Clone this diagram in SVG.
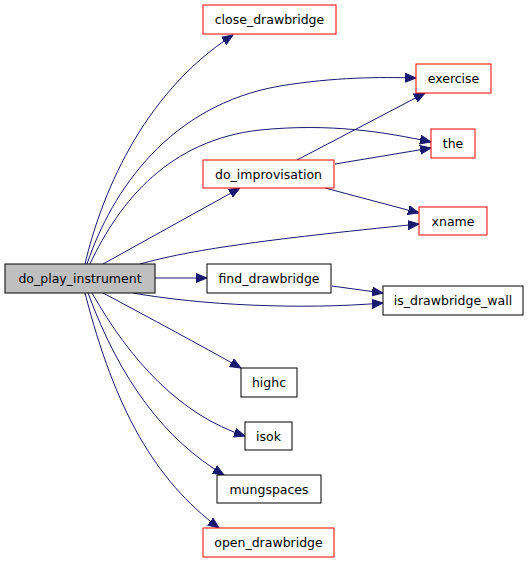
<svg xmlns="http://www.w3.org/2000/svg" width="528" height="563" viewBox="0 0 528 563">
<defs>
<style>
.n rect{fill:#fff;stroke:#000;stroke-width:1}
.n.r rect{stroke:#ff0000}
.n.cur rect{fill:#bfbfbf}
.n text{font-family:"DejaVu Sans",sans-serif;font-size:12.5px;text-anchor:middle;fill:#000}
.e path{fill:none;stroke:#191970;stroke-width:1;marker-end:url(#ah)}
</style>
<marker id="ah" markerUnits="userSpaceOnUse" markerWidth="12" markerHeight="10" refX="11" refY="4.5" orient="auto" viewBox="0 0 12 9">
<path d="M0,0 L11,4.5 L0,9 Z" fill="#191970" stroke="#191970"/>
</marker>
</defs>
<rect width="528" height="563" fill="#fff"/>
<g id="edges" class="e">
<path d="M85,264 C100,200 140,95 233,35"/>
<path d="M87,264 C112,190 170,105 280,86 C335,77 380,77 416,78"/>
<path d="M90,264 C120,200 170,140 260,130 C330,123 385,132 431,142"/>
<path d="M103,264 L240,188"/>
<path d="M140,264 C190,250 260,240 419,224"/>
<path d="M155,278 L207,278"/>
<path d="M133,293 C200,305 300,310 383,303"/>
<path d="M103,293 C150,318 200,345 241,368"/>
<path d="M92,293 C130,360 180,415 245,436"/>
<path d="M88,293 C120,380 165,440 224,475"/>
<path d="M85,293 C115,410 155,480 219,528"/>
<path d="M297,160 L425,93"/>
<path d="M335,164 L431,148"/>
<path d="M325,188 L419,213"/>
<path d="M332,286 L383,293"/>
</g>
<g id="do_play_instrument" class="n cur"><rect x="5" y="264" width="150" height="29"/><text x="80" y="283">do_play_instrument</text></g>
<g id="close_drawbridge" class="n r"><rect x="203" y="5" width="133" height="29"/><text x="269.5" y="24">close_drawbridge</text></g>
<g id="exercise" class="n r"><rect x="416" y="64" width="75" height="29"/><text x="453.5" y="83">exercise</text></g>
<g id="the" class="n r"><rect x="431" y="129" width="44" height="29"/><text x="453" y="148">the</text></g>
<g id="do_improvisation" class="n r"><rect x="203" y="160" width="131" height="28"/><text x="268.5" y="179">do_improvisation</text></g>
<g id="xname" class="n r"><rect x="419" y="207" width="68" height="28"/><text x="453" y="226">xname</text></g>
<g id="find_drawbridge" class="n"><rect x="207" y="264" width="124" height="29"/><text x="269" y="283">find_drawbridge</text></g>
<g id="is_drawbridge_wall" class="n"><rect x="383" y="286" width="140" height="29"/><text x="453" y="305">is_drawbridge_wall</text></g>
<g id="highc" class="n"><rect x="241" y="368" width="56" height="29"/><text x="269" y="387">highc</text></g>
<g id="isok" class="n"><rect x="245" y="422" width="47" height="28"/><text x="268.5" y="441">isok</text></g>
<g id="mungspaces" class="n"><rect x="217" y="475" width="104" height="28"/><text x="269" y="494">mungspaces</text></g>
<g id="open_drawbridge" class="n r"><rect x="203" y="528" width="131" height="29"/><text x="268.5" y="547">open_drawbridge</text></g>
</svg>
